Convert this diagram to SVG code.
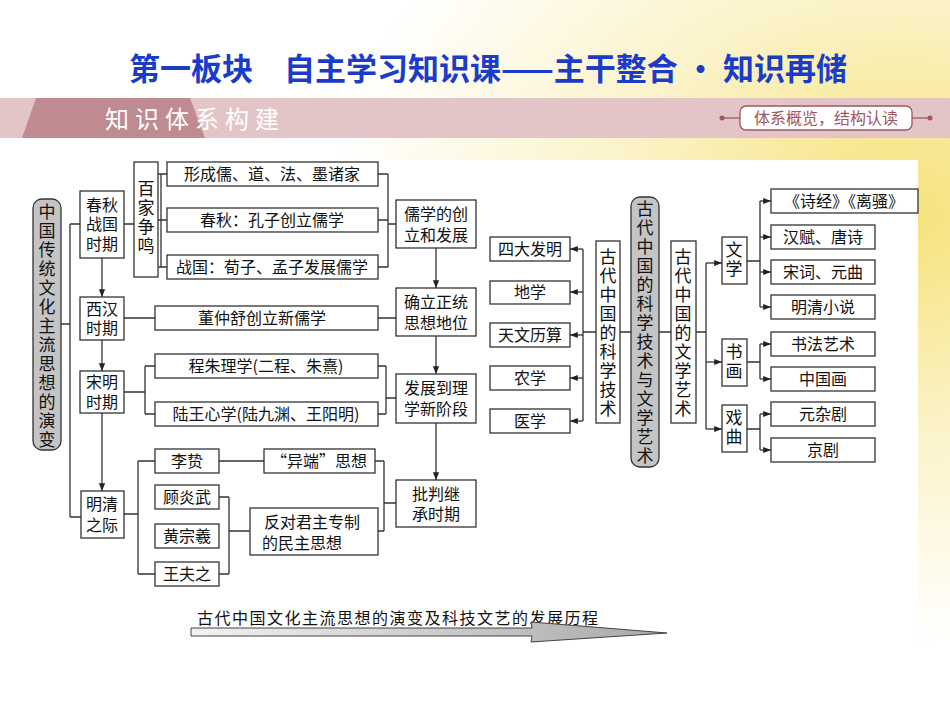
<svg xmlns="http://www.w3.org/2000/svg" width="950" height="713" viewBox="0 0 950 713">
<defs>
<radialGradient id="yel" cx="0.95" cy="0.3" r="0.6">
<stop offset="0" stop-color="#f6e27a"/><stop offset="0.5" stop-color="#fbf3c8"/><stop offset="1" stop-color="#ffffff"/>
</radialGradient>
<linearGradient id="shaft" x1="0" y1="0" x2="1" y2="0"><stop offset="0" stop-color="#f2f2f2"/><stop offset="1" stop-color="#a8a8a8"/></linearGradient>
<marker id="ah" viewBox="0 0 10 10" refX="10" refY="5" markerWidth="6" markerHeight="6" orient="auto"><path d="M0,1 L10,5 L0,9 Z" fill="#222"/></marker>
<style>
.b{fill:#fff;stroke:#333;stroke-width:1.3}
.g{fill:#c4c4c4;stroke:#333;stroke-width:1.3}
.t{font-family:"Noto Sans CJK SC",sans-serif;font-size:16px;fill:#111;text-anchor:middle}
.v{font-family:"Noto Sans CJK SC",sans-serif;font-size:17px;fill:#111;text-anchor:start;writing-mode:tb;glyph-orientation-vertical:0;letter-spacing:2px}
.c{fill:none;stroke:#333;stroke-width:1.3}
.a{fill:none;stroke:#333;stroke-width:1.3;marker-end:url(#ah)}
</style>
</defs>
<rect width="950" height="713" fill="url(#yel)"/>
<text x="488" y="80" font-family="Noto Sans CJK SC,sans-serif" font-size="31" font-weight="bold" fill="#1a3cc8" text-anchor="middle">第一板块　自主学习知识课——主干整合 · 知识再储</text>
<rect x="0" y="98" width="950" height="40" fill="#e3c5c8"/>
<path d="M36,98 L190,98 L205,138 L22,138 Z" fill="#bf8b90"/>
<text x="195" y="128" font-family="Noto Sans CJK SC,sans-serif" font-size="24" fill="#fff" text-anchor="middle" letter-spacing="6">知识体系构建</text>
<line x1="722" y1="118" x2="740" y2="118" stroke="#a05560" stroke-width="1.3"/><circle cx="722" cy="118" r="2.5" fill="#a05560"/>
<line x1="912" y1="118" x2="930" y2="118" stroke="#a05560" stroke-width="1.3"/><circle cx="930" cy="118" r="2.5" fill="#a05560"/>
<rect x="740" y="106" width="172" height="24" rx="6" fill="#fff" stroke="#a05560" stroke-width="1.3"/>
<text x="826" y="124" font-family="Noto Sans CJK SC,sans-serif" font-size="16" fill="#a05560" text-anchor="middle">体系概览，结构认读</text>
<rect x="20" y="160" width="898" height="482" fill="#fff"/>

<g id="connectors">
<path class="c" d="M61,324 H70 M70,224 V517 M70,224 H80 M70,517 H81"/>
<path class="a" d="M102,258 V297"/><path class="a" d="M102,340 V371"/><path class="a" d="M102,413 V491"/>
<path class="c" d="M124,224 H134 M158,174 H167 M158,220 H167 M158,267 H167 M161,174 V267"/>
<path class="c" d="M378,174 H388 M378,220 H388 M378,267 H388 M388,174 V267 M388,224 H396"/>
<path class="c" d="M124,318 H155 M378,318 H396"/>
<path class="c" d="M124,392 H145 M145,366 V414 M145,366 H155 M145,414 H155"/>
<path class="c" d="M378,366 H386 M378,414 H386 M386,366 V414 M386,398 H396"/>
<path class="a" d="M436,248 V288"/><path class="a" d="M436,336 V374"/><path class="a" d="M436,423 V480"/>
<path class="c" d="M124,514 H138 M138,461 V574 M138,461 H155 M138,574 H155"/>
<path class="c" d="M219,461 H264 M219,497 H229 M219,574 H229 M229,497 V574 M229,531 H250"/>
<path class="c" d="M375,461 H384 M378,531 H384 M384,461 V531 M384,503 H396"/>
<path class="c" d="M631,332 H620 M596,332 H583 M583,249 V421"/>
<path class="a" d="M583,249 H570"/><path class="a" d="M583,292 H570"/><path class="a" d="M583,335 H570"/><path class="a" d="M583,378 H570"/><path class="a" d="M583,421 H570"/>
<path class="c" d="M659,332 H671 M696,332 H706 M706,263 V429"/>
<path class="a" d="M706,263 H722"/><path class="a" d="M706,362 H722"/><path class="a" d="M706,429 H722"/>
<path class="c" d="M747,261 H760 M760,201 V307 M747,362 H760 M760,344 V379 M747,429 H760 M760,414 V450"/>
<path class="a" d="M760,201 H771"/><path class="a" d="M760,237 H771"/><path class="a" d="M760,272 H771"/><path class="a" d="M760,307 H771"/>
<path class="a" d="M760,344 H771"/><path class="a" d="M760,379 H771"/><path class="a" d="M760,414 H771"/><path class="a" d="M760,450 H771"/>
</g>

<g id="n-main"><rect class="g" x="33" y="199" width="28" height="251" rx="9"/><text class="v" x="47" y="203">中国传统文化主流思想的演变</text></g>
<g id="n-cq"><rect class="b" x="80" y="191" width="44" height="67"/><text class="t" x="102" y="211">春秋</text><text class="t" x="102" y="230">战国</text><text class="t" x="102" y="250">时期</text></g>
<g id="n-bj"><rect class="b" x="134" y="162" width="24" height="115"/><text class="v" x="146" y="180">百家争鸣</text></g>
<g id="n-xc"><rect class="b" x="167" y="162" width="211" height="24"/><text class="t" x="272" y="180">形成儒、道、法、墨诸家</text></g>
<g id="n-kz"><rect class="b" x="167" y="208" width="211" height="24"/><text class="t" x="272" y="226">春秋：孔子创立儒学</text></g>
<g id="n-xm"><rect class="b" x="167" y="255" width="211" height="24"/><text class="t" x="272" y="273">战国：荀子、孟子发展儒学</text></g>
<g id="n-rx"><rect class="b" x="396" y="200" width="80" height="48"/><text class="t" x="436" y="220">儒学的创</text><text class="t" x="436" y="241">立和发展</text></g>
<g id="n-xh"><rect class="b" x="80" y="297" width="44" height="43"/><text class="t" x="102" y="315">西汉</text><text class="t" x="102" y="334">时期</text></g>
<g id="n-dzs"><rect class="b" x="155" y="306" width="223" height="24"/><text class="t" x="262" y="324">董仲舒创立新儒学</text></g>
<g id="n-zt"><rect class="b" x="396" y="288" width="80" height="48"/><text class="t" x="436" y="308">确立正统</text><text class="t" x="436" y="329">思想地位</text></g>
<g id="n-sm"><rect class="b" x="80" y="371" width="44" height="42"/><text class="t" x="102" y="388">宋明</text><text class="t" x="102" y="408">时期</text></g>
<g id="n-cz"><rect class="b" x="155" y="354" width="223" height="24"/><text class="t" x="266" y="372">程朱理学(二程、朱熹)</text></g>
<g id="n-lw"><rect class="b" x="155" y="402" width="223" height="24"/><text class="t" x="266" y="420">陆王心学(陆九渊、王阳明)</text></g>
<g id="n-lx"><rect class="b" x="396" y="374" width="80" height="49"/><text class="t" x="436" y="394">发展到理</text><text class="t" x="436" y="415">学新阶段</text></g>
<g id="n-mq"><rect class="b" x="81" y="491" width="43" height="47"/><text class="t" x="102" y="510">明清</text><text class="t" x="102" y="531">之际</text></g>
<g id="n-lz"><rect class="b" x="155" y="449" width="64" height="24"/><text class="t" x="187" y="467">李贽</text></g>
<g id="n-gyw"><rect class="b" x="155" y="485" width="64" height="24"/><text class="t" x="187" y="503">顾炎武</text></g>
<g id="n-hzx"><rect class="b" x="155" y="524" width="64" height="24"/><text class="t" x="187" y="542">黄宗羲</text></g>
<g id="n-wfz"><rect class="b" x="155" y="562" width="64" height="24"/><text class="t" x="187" y="580">王夫之</text></g>
<g id="n-yd"><rect class="b" x="264" y="449" width="111" height="24"/><text class="t" x="319" y="467">“异端”思想</text></g>
<g id="n-fd"><rect class="b" x="250" y="508" width="128" height="47"/><text class="t" x="312" y="528">反对君主专制</text><text class="t" x="302" y="549">的民主思想</text></g>
<g id="n-pp"><rect class="b" x="396" y="480" width="80" height="47"/><text class="t" x="436" y="500">批判继</text><text class="t" x="436" y="520">承时期</text></g>

<g id="n-sd"><rect class="b" x="490" y="237" width="80" height="24"/><text class="t" x="530" y="255">四大发明</text></g>
<g id="n-dx"><rect class="b" x="490" y="281" width="80" height="23"/><text class="t" x="530" y="298">地学</text></g>
<g id="n-tw"><rect class="b" x="490" y="323" width="80" height="24"/><text class="t" x="530" y="341">天文历算</text></g>
<g id="n-nx"><rect class="b" x="490" y="366" width="80" height="24"/><text class="t" x="530" y="384">农学</text></g>
<g id="n-yx"><rect class="b" x="490" y="409" width="80" height="24"/><text class="t" x="530" y="427">医学</text></g>
<g id="n-kj"><rect class="b" x="596" y="241" width="24" height="182"/><text class="v" x="608" y="248">古代中国的科学技术</text></g>
<g id="n-center"><rect class="g" x="631" y="197" width="28" height="270" rx="9"/><text class="v" x="645" y="200">古代中国的科学技术与文学艺术</text></g>
<g id="n-wy"><rect class="b" x="671" y="241" width="25" height="182"/><text class="v" x="683" y="248">古代中国的文学艺术</text></g>
<g id="n-wx"><rect class="b" x="722" y="237" width="25" height="47"/><text class="v" x="734" y="241">文学</text></g>
<g id="n-sh"><rect class="b" x="722" y="339" width="25" height="47"/><text class="v" x="734" y="343">书画</text></g>
<g id="n-xq"><rect class="b" x="722" y="405" width="25" height="47"/><text class="v" x="734" y="409">戏曲</text></g>
<g id="n-sj"><rect class="b" x="771" y="189" width="147" height="24"/><text class="t" x="844" y="207">《诗经》《离骚》</text></g>
<g id="n-hf"><rect class="b" x="771" y="225" width="104" height="24"/><text class="t" x="823" y="243">汉赋、唐诗</text></g>
<g id="n-sc"><rect class="b" x="771" y="260" width="104" height="24"/><text class="t" x="823" y="278">宋词、元曲</text></g>
<g id="n-mqxs"><rect class="b" x="771" y="295" width="104" height="24"/><text class="t" x="823" y="313">明清小说</text></g>
<g id="n-sf"><rect class="b" x="771" y="332" width="104" height="24"/><text class="t" x="823" y="350">书法艺术</text></g>
<g id="n-zgh"><rect class="b" x="771" y="367" width="104" height="24"/><text class="t" x="823" y="385">中国画</text></g>
<g id="n-yzj"><rect class="b" x="771" y="402" width="104" height="24"/><text class="t" x="823" y="420">元杂剧</text></g>
<g id="n-jj"><rect class="b" x="771" y="438" width="104" height="24"/><text class="t" x="823" y="456">京剧</text></g>

<g id="timeline">
<text x="197" y="624" font-family="Noto Sans CJK SC,sans-serif" font-size="16" fill="#111" letter-spacing="1.5">古代中国文化主流思想的演变及科技文艺的发展历程</text>
<path d="M191,628 H532 L531,622 L667,633 L531,642 L532,636 H191 Z" fill="url(#shaft)" stroke="#444" stroke-width="1"/>
</g>
</svg>
